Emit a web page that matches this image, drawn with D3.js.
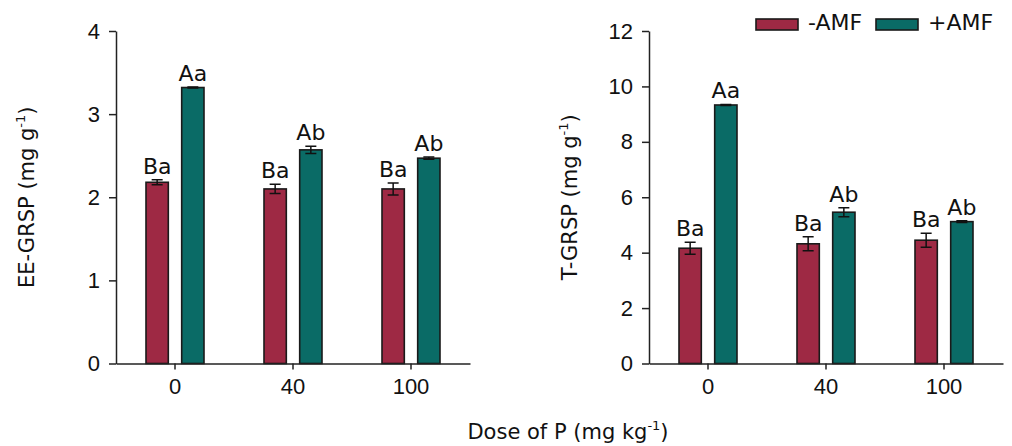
<!DOCTYPE html>
<html>
<head>
<meta charset="utf-8">
<script src="https://cdn.jsdelivr.net/npm/d3@7/dist/d3.min.js"></script>
<style>
  body { margin: 0; background: #fff; }
  svg { display: block; font-family: "DejaVu Sans", sans-serif; }
  .axis path, .axis line { stroke: #222; stroke-width: 1.5; }
  .axis text { font-size: 22px; fill: #111; }
</style>
</head>
<body>
<svg id="chart" width="1012" height="446"></svg>
<script>
const doses = ["0", "40", "100"];
const treatments = ["-AMF", "+AMF"];
const colors = ["#9e2944", "#0a6b66"];

const eeMinus = [2.18, 2.10, 2.10];
const eePlus = [3.32, 2.57, 2.47];
const eeMinusErr = [0.03, 0.055, 0.072];
const eePlusErr = [0.006, 0.044, 0.013];
const eeMinusLabel = ["Ba", "Ba", "Ba"];
const eePlusLabel = ["Aa", "Ab", "Ab"];

const tMinus = [4.16, 4.32, 4.45];
const tPlus = [9.33, 5.46, 5.12];
const tMinusErr = [0.22, 0.25, 0.25];
const tPlusErr = [0.02, 0.16, 0.03];
const tMinusLabel = ["Ba", "Ba", "Ba"];
const tPlusLabel = ["Aa", "Ab", "Ab"];

const eeTicks = [0, 1, 2, 3, 4];
const tTicks = [0, 2, 4, 6, 8, 10, 12];

const svg = d3.select("#chart");
const plotTop = 31, plotBottom = 363.5;

const rows = (minus, plus, minusErr, plusErr, minusLab, plusLab) =>
  doses.map((d, i) => ({
    dose: d,
    bars: [
      { t: treatments[0], v: minus[i], e: minusErr[i], lab: minusLab[i] },
      { t: treatments[1], v: plus[i], e: plusErr[i], lab: plusLab[i] }
    ]
  }));

const drawPanel = (opts) => {
  const x = d3.scaleBand().domain(doses).range([opts.x0, opts.x1]);
  const sub = d3.scaleBand().domain(treatments).range([-29, 29]).paddingInner(0.375);
  const y = d3.scaleLinear().domain([0, opts.max]).range([plotBottom, plotTop]);
  const color = d3.scaleOrdinal().domain(treatments).range(colors);

  const g = svg.append("g");

  const groups = g.selectAll("g.dose")
    .data(opts.data)
    .join("g")
    .attr("transform", d => `translate(${x(d.dose) + x.bandwidth() / 2},0)`);

  const bars = groups.selectAll("g.bar")
    .data(d => d.bars)
    .join("g");

  bars.append("rect")
    .attr("x", d => sub(d.t))
    .attr("width", sub.bandwidth())
    .attr("y", d => y(d.v))
    .attr("height", d => y(0) - y(d.v))
    .attr("fill", d => color(d.t))
    .attr("stroke", "#1a1a1a")
    .attr("stroke-width", 1.6);

  const cx = d => sub(d.t) + sub.bandwidth() / 2;
  bars.append("path")
    .attr("d", d => {
      const a = y(d.v + d.e), b = y(d.v - d.e), c = cx(d);
      return `M${c - 5.5},${a}H${c + 5.5}M${c},${a}V${b}M${c - 5.5},${b}H${c + 5.5}`;
    })
    .attr("stroke", "#111")
    .attr("stroke-width", 1.5)
    .attr("fill", "none");

  bars.append("text")
    .attr("x", cx)
    .attr("y", d => y(d.v + d.e) - 6)
    .attr("text-anchor", "middle")
    .attr("font-size", 22)
    .attr("fill", "#111")
    .text(d => d.lab);

  g.append("g")
    .attr("class", "axis")
    .attr("transform", `translate(${opts.x0},0)`)
    .call(d3.axisLeft(y).tickValues(opts.ticks).tickFormat(d3.format("d"))
      .tickSize(7).tickSizeOuter(0).tickPadding(9));

  g.append("g")
    .attr("class", "axis")
    .attr("transform", `translate(0,${plotBottom})`)
    .call(d3.axisBottom(x).tickSizeOuter(0).tickPadding(9));

  const title = g.append("text")
    .attr("transform", `translate(${opts.titleX},${(plotTop + plotBottom) / 2}) rotate(-90)`)
    .attr("text-anchor", "middle")
    .attr("font-size", 21)
    .attr("fill", "#111");
  title.append("tspan").text(opts.title + " (mg g");
  title.append("tspan").attr("font-size", 13).attr("dy", -9).text("-1");
  title.append("tspan").attr("dy", 9).text(")");
};

drawPanel({
  x0: 116, x1: 470, max: 4, ticks: eeTicks, titleX: 34, title: "EE-GRSP",
  data: rows(eeMinus, eePlus, eeMinusErr, eePlusErr, eeMinusLabel, eePlusLabel)
});

drawPanel({
  x0: 649, x1: 1003, max: 12, ticks: tTicks, titleX: 577, title: "T-GRSP",
  data: rows(tMinus, tPlus, tMinusErr, tPlusErr, tMinusLabel, tPlusLabel)
});

// shared x title
const xt = svg.append("text")
  .attr("x", 568)
  .attr("y", 439)
  .attr("text-anchor", "middle")
  .attr("font-size", 21)
  .attr("fill", "#111");
xt.append("tspan").text("Dose of P (mg kg");
xt.append("tspan").attr("font-size", 13).attr("dy", -9).text("-1");
xt.append("tspan").attr("dy", 9).text(")");

// legend
const legendX = [756, 876];
const legend = svg.append("g")
  .selectAll("g")
  .data(treatments)
  .join("g")
  .attr("transform", (d, i) => `translate(${legendX[i]},19)`);
legend.append("rect")
  .attr("width", 42)
  .attr("height", 11)
  .attr("fill", (d, i) => colors[i])
  .attr("stroke", "#1a1a1a")
  .attr("stroke-width", 1.6);
legend.append("text")
  .attr("x", 52)
  .attr("y", 11)
  .attr("font-size", 22)
  .attr("fill", "#111")
  .text(d => d);
</script>
</body>
</html>
